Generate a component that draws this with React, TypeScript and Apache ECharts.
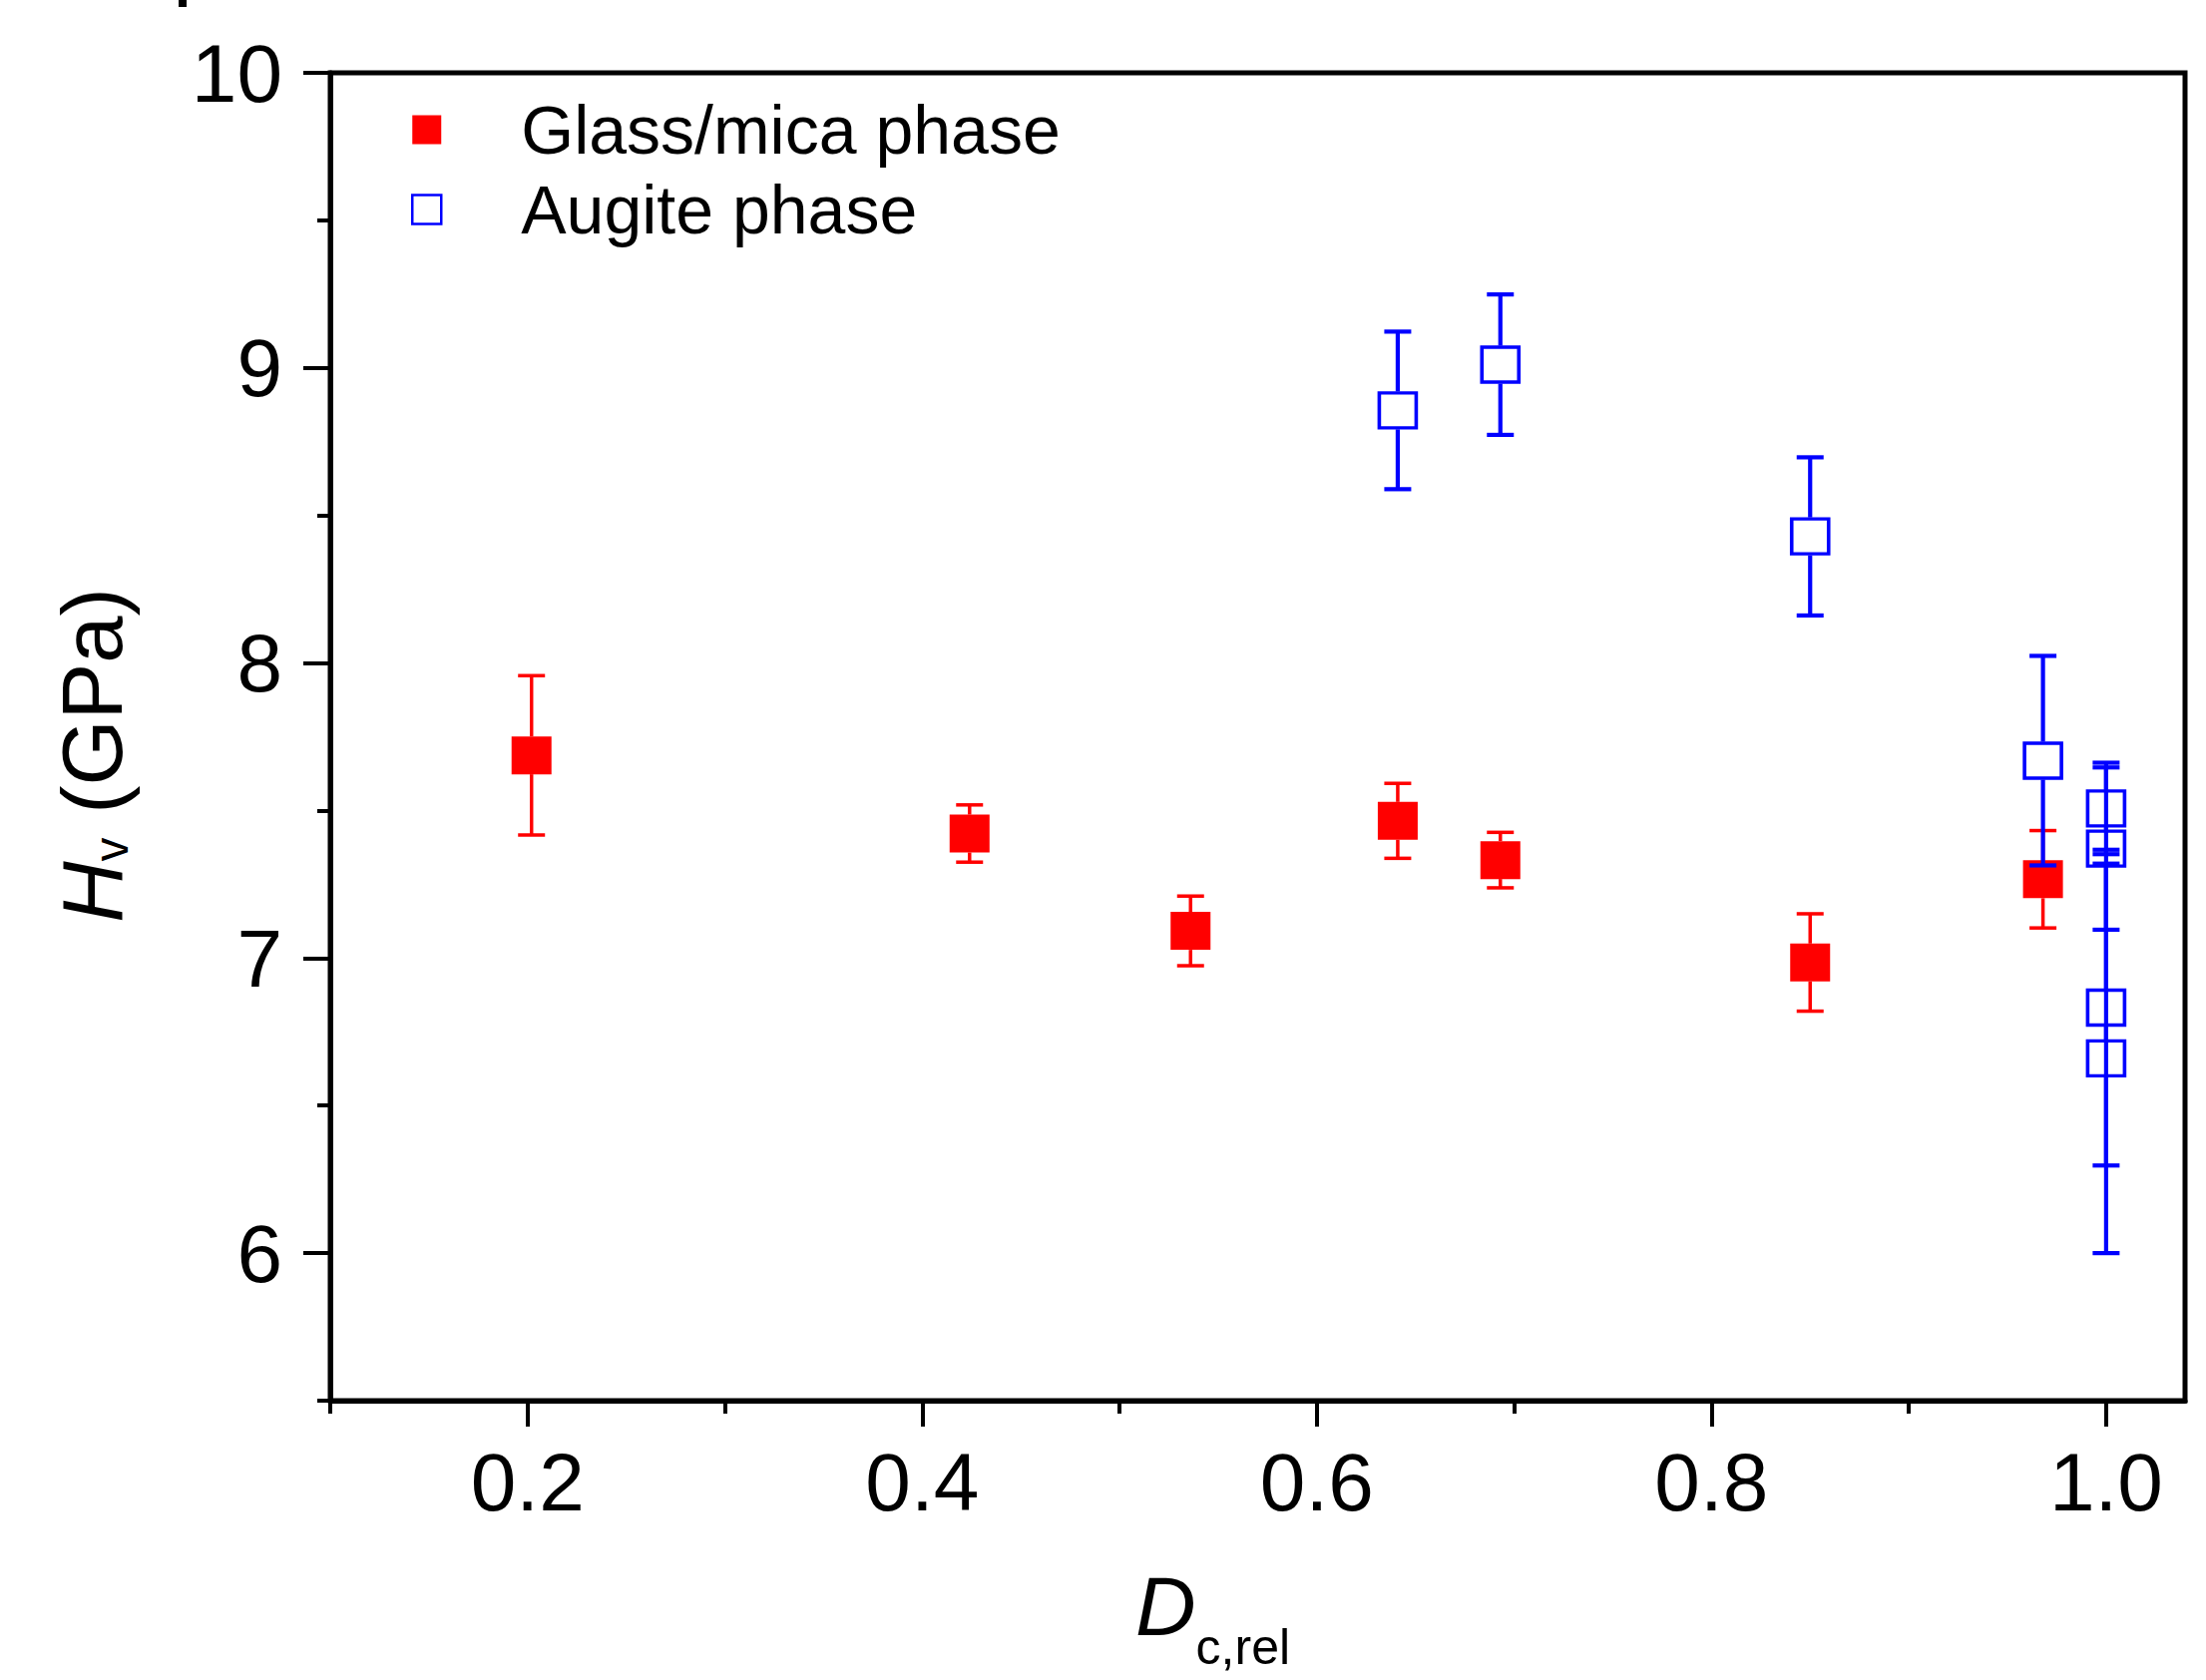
import React, { useEffect, useRef } from "react";
import * as echarts from "echarts";

const FONT = "'Liberation Sans', Arial, Helvetica, sans-serif";

// Glass/mica phase (filled red squares)
const glassX = [0.202, 0.424, 0.536, 0.641, 0.693, 0.85, 0.968];
const glassY = [7.687, 7.422, 7.092, 7.465, 7.332, 6.985, 7.267];
const glassErr = [0.27, 0.097, 0.118, 0.127, 0.094, 0.165, 0.165];

// Augite phase (open blue squares)
const augiteX = [0.641, 0.693, 0.85, 0.968, 1.0, 1.0, 1.0, 1.0];
const augiteY = [8.856, 9.011, 8.429, 7.669, 7.507, 7.371, 6.832, 6.66];
const augiteErr = [0.267, 0.238, 0.268, 0.355, 0.155, 0.275, 0.535, 0.66];

// Axis ticks
const xMajorTicks = [0.2, 0.4, 0.6, 0.8, 1.0];
const xMinorTicks = [0.1, 0.3, 0.5, 0.7, 0.9];
const yMajorTicks = [6, 7, 8, 9, 10];
const yMinorTicks = [5.5, 6.5, 7.5, 8.5, 9.5];

const seriesNames = ["Glass/mica phase", "Augite phase"];

function errorRender(color: string, lw: number, half: number, capHalf: number) {
  return (params: any, api: any) => {
    const x = api.value(0);
    const y = api.value(1);
    const e = api.value(2);
    const c = api.coord([x, y]);
    const t = api.coord([x, y + e]);
    const b = api.coord([x, y - e]);
    const style = { stroke: color, lineWidth: lw, fill: "none" };
    return {
      type: "group",
      children: [
        { type: "line", shape: { x1: c[0], y1: c[1] - half, x2: c[0], y2: t[1] }, style },
        { type: "line", shape: { x1: c[0], y1: c[1] + half, x2: c[0], y2: b[1] }, style },
        { type: "line", shape: { x1: c[0] - capHalf, y1: t[1], x2: c[0] + capHalf, y2: t[1] }, style },
        { type: "line", shape: { x1: c[0] - capHalf, y1: b[1], x2: c[0] + capHalf, y2: b[1] }, style },
      ],
    };
  };
}

export default function App() {
  const ref = useRef<HTMLDivElement>(null);

  useEffect(() => {
    document.body.style.margin = "0";
    if (!ref.current) return;
    const chart = echarts.init(ref.current, null, { renderer: "svg" });

    const glassPts = glassX.map((x, i) => [x, glassY[i]]);
    const augitePts = augiteX.map((x, i) => [x, augiteY[i]]);
    const glassErrPts = glassX.map((x, i) => [x, glassY[i], glassErr[i]]);
    const augiteErrPts = augiteX.map((x, i) => [x, augiteY[i], augiteErr[i]]);

    const option: any = {
      animation: false,
      backgroundColor: "#ffffff",
      grid: {
        left: 331,
        right: 21,
        top: 73,
        bottom: 280,
        show: true,
        borderColor: "#000",
        borderWidth: 5,
        backgroundColor: "transparent",
        containLabel: false,
        outerBoundsMode: "none",
      },
      legend: {
        orient: "vertical",
        left: 412,
        top: 96,
        padding: 0,
        itemWidth: 29,
        itemHeight: 29,
        itemGap: 12,
        selectedMode: false,
        textStyle: {
          fontSize: 68,
          lineHeight: 68,
          fontFamily: FONT,
          color: "#000",
          padding: [0, 0, 0, 75],
        },
        data: [
          { name: seriesNames[0], icon: "rect", itemStyle: { color: "#ff0000", borderWidth: 0 } },
          {
            name: seriesNames[1],
            icon: "rect",
            itemStyle: { color: "#ffffff", borderColor: "#0000ff", borderWidth: 2.5 },
          },
        ],
      },
      xAxis: [
        {
          type: "value",
          min: 0.1,
          max: 1.04,
          interval: 0.1,
          position: "bottom",
          axisLine: { show: true, onZero: false, lineStyle: { color: "#000", width: 5 } },
          axisTick: {
            show: true,
            customValues: xMajorTicks,
            length: 26,
            lineStyle: { color: "#000", width: 4 },
          },
          axisLabel: {
            show: true,
            customValues: xMajorTicks,
            formatter: (v: number) => v.toFixed(1),
            fontSize: 82,
            fontFamily: FONT,
            color: "#000",
            margin: 40,
          },
          splitLine: { show: false },
          name: "{i|D}{s|c,rel}",
          nameLocation: "middle",
          nameGap: 188,
          nameTextStyle: {
            fontFamily: FONT,
            color: "#000",
            rich: {
              i: {
                fontFamily: FONT,
                fontSize: 84,
                fontStyle: "italic",
                lineHeight: 84,
                verticalAlign: "bottom",
                padding: [0, 0, 24, 0],
                color: "#000",
              },
              s: {
                fontFamily: FONT,
                fontSize: 50,
                lineHeight: 50,
                verticalAlign: "bottom",
                padding: [0, 90, 0, 0],
                color: "#000",
              },
            },
          },
        },
        {
          type: "value",
          min: 0.1,
          max: 1.04,
          interval: 0.1,
          position: "bottom",
          axisLine: { show: false, onZero: false },
          axisTick: {
            show: true,
            customValues: xMinorTicks,
            length: 13,
            lineStyle: { color: "#000", width: 4 },
          },
          axisLabel: { show: false },
          splitLine: { show: false },
        },
      ],
      yAxis: [
        {
          type: "value",
          min: 5.5,
          max: 10,
          interval: 0.5,
          position: "left",
          axisLine: { show: true, onZero: false, lineStyle: { color: "#000", width: 5 } },
          axisTick: {
            show: true,
            customValues: yMajorTicks,
            length: 27,
            lineStyle: { color: "#000", width: 4 },
          },
          axisLabel: {
            show: true,
            customValues: yMajorTicks,
            formatter: (v: number) => v.toFixed(0),
            fontSize: 82,
            fontFamily: FONT,
            color: "#000",
            margin: 48,
          },
          splitLine: { show: false },
          name: "{i|H}{s|v}{n| (GPa)}",
          nameLocation: "middle",
          nameRotate: 90,
          nameGap: 196,
          nameTextStyle: {
            fontFamily: FONT,
            color: "#000",
            rich: {
              i: {
                fontFamily: FONT,
                fontSize: 85,
                fontStyle: "italic",
                lineHeight: 85,
                verticalAlign: "bottom",
                color: "#000",
              },
              s: {
                fontFamily: FONT,
                fontSize: 48,
                lineHeight: 48,
                verticalAlign: "bottom",
                color: "#000",
              },
              n: {
                fontFamily: FONT,
                fontSize: 85,
                lineHeight: 85,
                verticalAlign: "bottom",
                padding: [0, 37, 0, 0],
                color: "#000",
              },
            },
          },
        },
        {
          type: "value",
          min: 5.5,
          max: 10,
          interval: 0.5,
          position: "left",
          axisLine: { show: false, onZero: false },
          axisTick: {
            show: true,
            customValues: yMinorTicks,
            length: 13,
            lineStyle: { color: "#000", width: 4 },
          },
          axisLabel: { show: false },
          splitLine: { show: false },
        },
      ],
      graphic: [
        { type: "rect", left: 179, top: 0, shape: { width: 8, height: 7 }, style: { fill: "#000" } },
      ],
      series: [
        {
          name: seriesNames[0],
          type: "scatter",
          xAxisIndex: 0,
          yAxisIndex: 0,
          symbol: "rect",
          symbolSize: [40, 38],
          itemStyle: { color: "#ff0000", opacity: 1 },
          data: glassPts,
          z: 2,
          silent: true,
        },
        {
          name: "glass-err",
          type: "custom",
          xAxisIndex: 0,
          yAxisIndex: 0,
          renderItem: errorRender("#ff0000", 3.5, 19, 13.5),
          encode: { x: 0, y: 1 },
          data: glassErrPts,
          z: 3,
          silent: true,
        },
        {
          name: seriesNames[1],
          type: "scatter",
          xAxisIndex: 0,
          yAxisIndex: 0,
          symbol: "rect",
          symbolSize: [37, 35],
          itemStyle: { color: "#ffffff", borderColor: "#0000ff", borderWidth: 3.5, opacity: 1 },
          data: augitePts,
          z: 4,
          silent: true,
        },
        {
          name: "augite-err",
          type: "custom",
          xAxisIndex: 0,
          yAxisIndex: 0,
          renderItem: errorRender("#0000ff", 4.2, 19, 13.5),
          encode: { x: 0, y: 1 },
          data: augiteErrPts,
          z: 5,
          silent: true,
        },
      ],
    };

    chart.setOption(option);
    return () => {
      chart.dispose();
    };
  }, []);

  return <div ref={ref} style={{ width: 2211, height: 1684 }} />;
}
